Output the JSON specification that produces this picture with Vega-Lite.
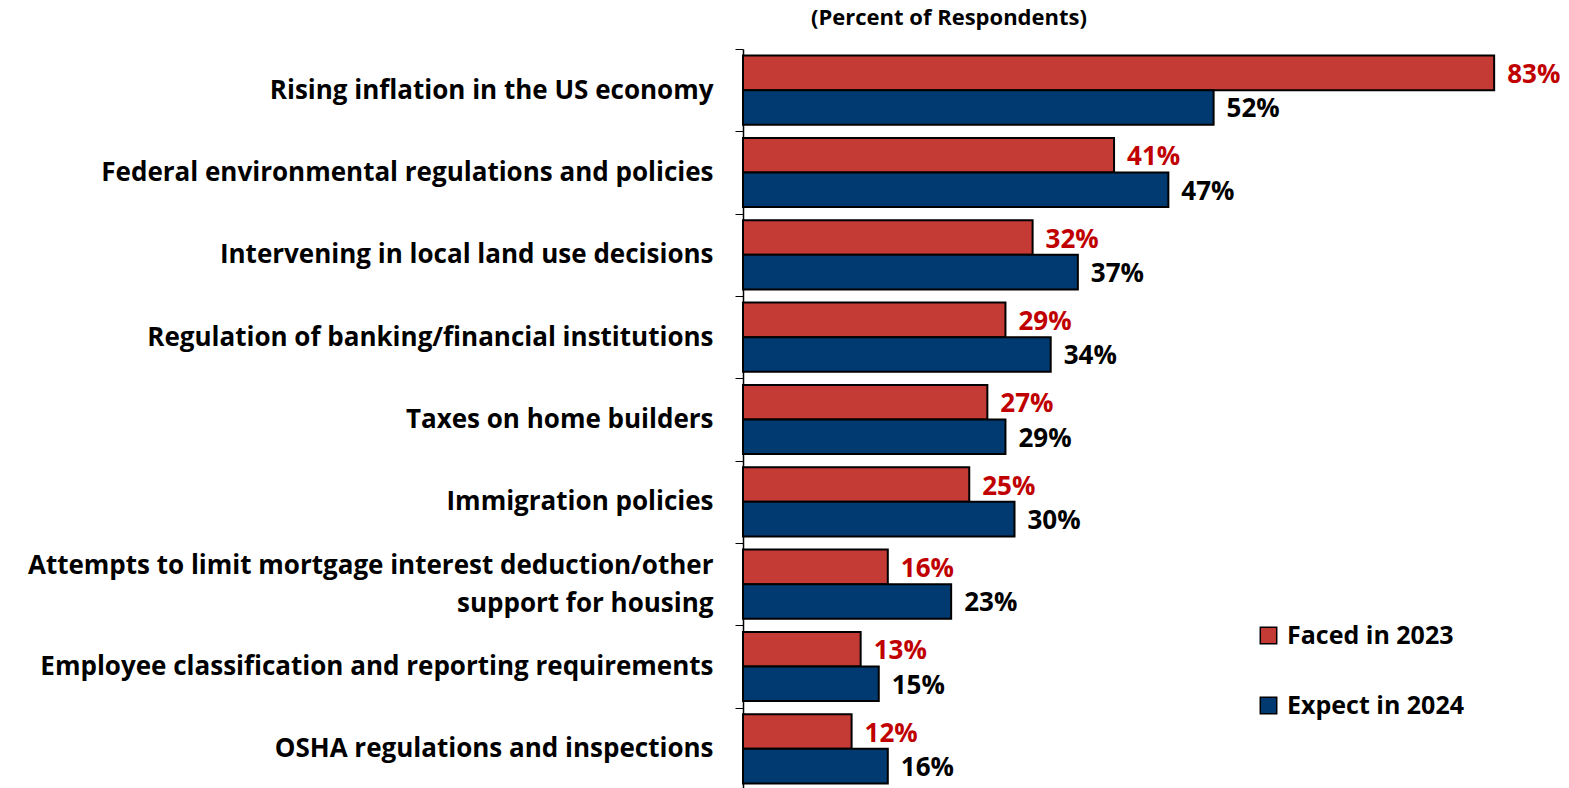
{
  "$schema": "https://vega.github.io/schema/vega-lite/v6.json",
  "autosize": "none",
  "padding": {"left": 743, "top": 49, "right": 0, "bottom": 0},
  "width": 826,
  "height": 741,
  "background": "white",
  "config": {"font": "Open Sans", "view": {"stroke": null}},
  "title": {"text": "(Percent of Respondents)", "anchor": "start", "frame": "group", "dx": 68, "fontSize": 22, "fontWeight": "bold", "color": "black", "offset": 6},
  "data": {"values": [
    {"cat": "Rising inflation in the US economy", "series": "Faced in 2023", "value": 0.83},
    {"cat": "Rising inflation in the US economy", "series": "Expect in 2024", "value": 0.52},
    {"cat": "Federal environmental regulations and policies", "series": "Faced in 2023", "value": 0.41},
    {"cat": "Federal environmental regulations and policies", "series": "Expect in 2024", "value": 0.47},
    {"cat": "Intervening in local land use decisions", "series": "Faced in 2023", "value": 0.32},
    {"cat": "Intervening in local land use decisions", "series": "Expect in 2024", "value": 0.37},
    {"cat": "Regulation of banking/financial institutions", "series": "Faced in 2023", "value": 0.29},
    {"cat": "Regulation of banking/financial institutions", "series": "Expect in 2024", "value": 0.34},
    {"cat": "Taxes on home builders", "series": "Faced in 2023", "value": 0.27},
    {"cat": "Taxes on home builders", "series": "Expect in 2024", "value": 0.29},
    {"cat": "Immigration policies", "series": "Faced in 2023", "value": 0.25},
    {"cat": "Immigration policies", "series": "Expect in 2024", "value": 0.30},
    {"cat": "Attempts to limit mortgage interest deduction/other|support for housing", "series": "Faced in 2023", "value": 0.16},
    {"cat": "Attempts to limit mortgage interest deduction/other|support for housing", "series": "Expect in 2024", "value": 0.23},
    {"cat": "Employee classification and reporting requirements", "series": "Faced in 2023", "value": 0.13},
    {"cat": "Employee classification and reporting requirements", "series": "Expect in 2024", "value": 0.15},
    {"cat": "OSHA regulations and inspections", "series": "Faced in 2023", "value": 0.12},
    {"cat": "OSHA regulations and inspections", "series": "Expect in 2024", "value": 0.16}
  ]},
  "encoding": {
    "y": {"field": "cat", "type": "nominal", "sort": null, "title": null,
      "scale": {"paddingInner": 0, "paddingOuter": 0},
      "axis": {"labelExpr": "split(datum.label, '|')", "labelFontSize": 26, "labelFontWeight": "bold", "labelColor": "black", "labelPadding": 22, "labelLimit": 800, "tickBand": "extent", "tickSize": 8, "tickColor": "black", "tickWidth": 1, "domainColor": "black", "domainWidth": 1.5, "labelLineHeight": 38,
        "labelOffset": {"condition": {"test": "datum.value === 'Attempts to limit mortgage interest deduction/other|support for housing'", "value": -19}, "value": 0}}},
    "x": {"field": "value", "type": "quantitative", "scale": {"domain": [0, 0.9127], "nice": false}, "axis": null},
    "yOffset": {"field": "series", "type": "nominal", "sort": ["Faced in 2023", "Expect in 2024"], "scale": {"paddingInner": 0, "paddingOuter": 0.19}}
  },
  "layer": [
    {"mark": {"type": "bar", "stroke": "black", "strokeWidth": 2},
     "encoding": {"color": {"field": "series", "type": "nominal", "sort": ["Faced in 2023", "Expect in 2024"],
       "scale": {"domain": ["Faced in 2023", "Expect in 2024"], "range": ["#C43B35", "#003A70"]},
       "legend": {"title": null, "orient": "none", "legendX": 513, "legendY": 574, "symbolType": "square", "symbolSize": 270, "symbolStrokeColor": "black", "symbolStrokeWidth": 1.5, "labelFontSize": 25, "labelFontWeight": "bold", "labelColor": "black", "labelLimit": 400, "rowPadding": 44, "labelOffset": 6}}}},
    {"mark": {"type": "text", "align": "left", "baseline": "middle", "dx": 13, "dy": 2, "fontSize": 26, "fontWeight": "bold"},
     "encoding": {"text": {"field": "value", "type": "quantitative", "format": ".0%"},
       "color": {"condition": {"test": "datum.series === 'Faced in 2023'", "value": "#C00000"}, "value": "black"}}}
  ]
}
